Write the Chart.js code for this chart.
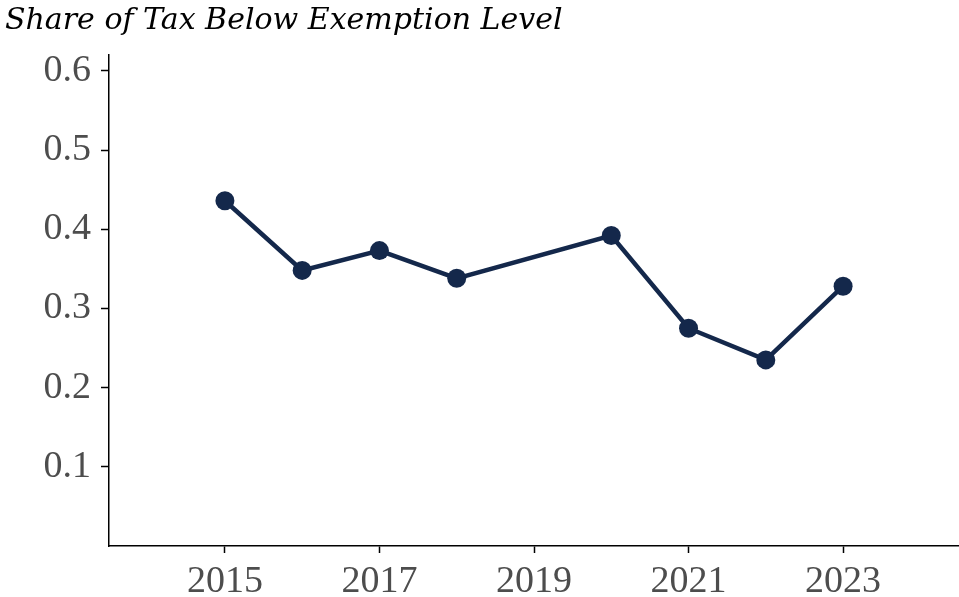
<!DOCTYPE html>
<html>
<head>
<meta charset="utf-8">
<script src="https://cdn.jsdelivr.net/npm/chart.js@4"></script>
<style>
	body { margin: 0; background: #fff; }
	canvas { display: block; }
</style>
</head>
<body>
<canvas id="chart" width="959" height="597"></canvas>
<script>
'use strict';

var years = [2015, 2016, 2017, 2018, 2020, 2021, 2022, 2023];
var shares = [0.436, 0.348, 0.373, 0.338, 0.392, 0.275, 0.235, 0.328];
var xTickYears = [2015, 2017, 2019, 2021, 2023];
var yTickValues = [0.1, 0.2, 0.3, 0.4, 0.5, 0.6];
var titleText = 'Share of Tax Below Exemption Level';

var navy = '#14284b';
var serif = '"Liberation Serif", "DejaVu Serif", serif';

var points = [];
for (var i = 0; i < years.length; i++) {
	points.push({ x: years[i], y: shares[i] });
}

var config = {
	type: 'line',
	data: {
		datasets: [
			{
				data: points,
				borderColor: navy,
				backgroundColor: navy,
				borderWidth: 4.5,
				pointRadius: 9.5,
				pointBorderWidth: 0,
				tension: 0,
				clip: false
			}
		]
	},
	options: {
		responsive: false,
		animation: false,
		layout: { autoPadding: false, padding: { left: 5, right: 0, top: 0, bottom: 0 } },
		plugins: {
			legend: { display: false },
			tooltip: { enabled: false },
			title: {
				display: true,
				text: titleText,
				align: 'start',
				color: '#000',
				font: { family: '"DejaVu Serif", serif', size: 30, style: 'italic', weight: 'normal', lineHeight: 1.2 },
				padding: { top: 3, bottom: 16 }
			}
		},
		scales: {
			x: {
				type: 'linear',
				min: 2013.5,
				max: 2024.5,
				afterBuildTicks: function (scale) {
					scale.ticks = xTickYears.map(function (v) { return { value: v }; });
				},
				afterFit: function (scale) {
					scale.height = 51;
					scale.paddingLeft = 0;
					scale.paddingRight = 0;
				},
				border: { display: true, color: '#000', width: 1.5 },
				grid: { drawOnChartArea: false, drawTicks: true, tickLength: 7, color: '#000', tickWidth: 1.5 },
				ticks: {
					color: '#4d4d4d',
					padding: 6,
					maxRotation: 0,
					font: { family: serif, size: 38 },
					callback: function (v) { return String(v); }
				}
			},
			y: {
				min: 0,
				max: 0.62,
				afterBuildTicks: function (scale) {
					scale.ticks = yTickValues.map(function (v) { return { value: v }; });
				},
				afterFit: function (scale) {
					scale.width = 104;
					scale.paddingTop = 0;
					scale.paddingBottom = 0;
				},
				border: { display: true, color: '#000', width: 1.5 },
				grid: { drawOnChartArea: false, drawTicks: true, tickLength: 8, color: '#000', tickWidth: 1.5 },
				ticks: {
					color: '#4d4d4d',
					padding: 10,
					font: { family: serif, size: 38 },
					callback: function (v) { return v.toFixed(1); }
				}
			}
		}
	}
};

var chart = new Chart(document.getElementById('chart'), config);
</script>
</body>
</html>
